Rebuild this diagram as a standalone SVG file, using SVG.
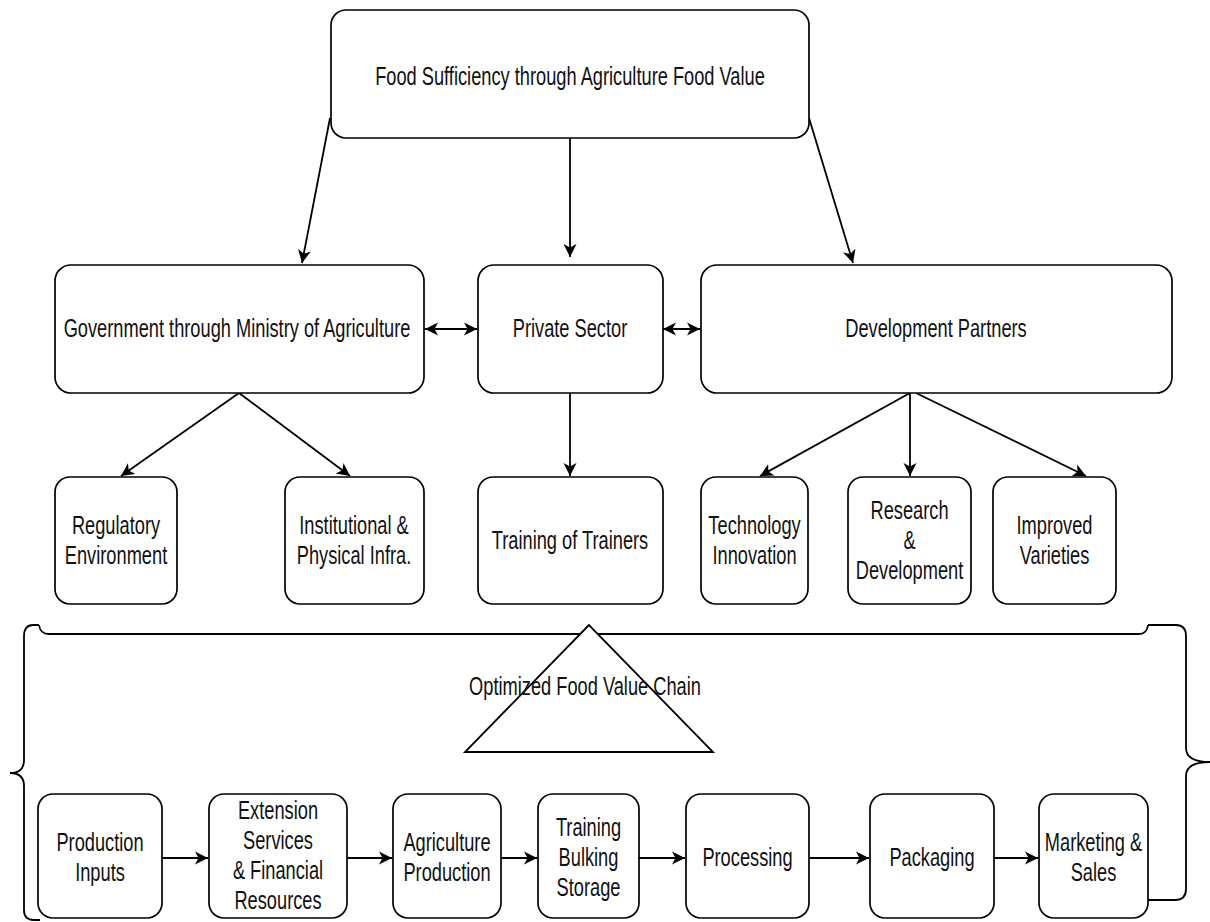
<svg xmlns="http://www.w3.org/2000/svg" width="1210" height="922" viewBox="0 0 1210 922">
<style>
.box{fill:#fff;stroke:#000;stroke-width:1.7}
.t{font-family:"Liberation Sans",Arial,sans-serif;font-size:25px;fill:#111;text-anchor:middle}
.c{fill:none;stroke:#000;stroke-width:1.8}
.br{fill:none;stroke:#000;stroke-width:1.8}
</style>
<defs>
<marker id="ah" markerUnits="userSpaceOnUse" markerWidth="14" markerHeight="14" viewBox="0 0 14 14" refX="13" refY="7" orient="auto-start-reverse">
<path d="M0,0.5 L13,7 L0,13.5 L3.5,7 Z" fill="#000"/>
</marker>
</defs>
<rect width="1210" height="922" fill="#fff"/>

<g id="connectors">
<path class="c" d="M330,118 L302,263" marker-end="url(#ah)"/>
<path class="c" d="M570,138 L570,257" marker-end="url(#ah)"/>
<path class="c" d="M809,118 L853,263" marker-end="url(#ah)"/>
<path class="c" d="M425,329 L477,329" marker-start="url(#ah)" marker-end="url(#ah)"/>
<path class="c" d="M663,329 L700,329" marker-start="url(#ah)" marker-end="url(#ah)"/>
<path class="c" d="M239,393 L121,476" marker-end="url(#ah)"/>
<path class="c" d="M239,393 L350,476" marker-end="url(#ah)"/>
<path class="c" d="M570,393 L570,476" marker-end="url(#ah)"/>
<path class="c" d="M910,393 L760,476" marker-end="url(#ah)"/>
<path class="c" d="M910,393 L910,476" marker-end="url(#ah)"/>
<path class="c" d="M916,393 L1086,476" marker-end="url(#ah)"/>
<path class="c" d="M162,858 L208,858" marker-end="url(#ah)"/>
<path class="c" d="M347,858 L392,858" marker-end="url(#ah)"/>
<path class="c" d="M501,858 L537,858" marker-end="url(#ah)"/>
<path class="c" d="M639,858 L685,858" marker-end="url(#ah)"/>
<path class="c" d="M809,858 L869,858" marker-end="url(#ah)"/>
<path class="c" d="M994,858 L1038,858" marker-end="url(#ah)"/>
</g>

<g id="top">
<rect class="box" x="331" y="10" width="478" height="128" rx="15"/>
<text class="t" transform="matrix(0.73 0 0 1 570 0)" x="0" y="85">Food Sufficiency through Agriculture Food Value</text>
</g>
<g id="gov">
<rect class="box" x="55" y="265" width="369" height="128" rx="16"/>
<text class="t" transform="matrix(0.73 0 0 1 237 0)" x="0" y="337">Government through Ministry of Agriculture</text>
</g>
<g id="private">
<rect class="box" x="478" y="265" width="185" height="128" rx="16"/>
<text class="t" transform="matrix(0.73 0 0 1 570 0)" x="0" y="337">Private Sector</text>
</g>
<g id="dev">
<rect class="box" x="701" y="265" width="471" height="128" rx="16"/>
<text class="t" transform="matrix(0.73 0 0 1 936 0)" x="0" y="337">Development Partners</text>
</g>

<g id="regulatory">
<rect class="box" x="55" y="477" width="122" height="127" rx="15"/>
<text class="t" transform="matrix(0.73 0 0 1 116 0)"><tspan x="0" y="534">Regulatory</tspan><tspan x="0" y="564">Environment</tspan></text>
</g>
<g id="institutional">
<rect class="box" x="285" y="477" width="139" height="127" rx="15"/>
<text class="t" transform="matrix(0.73 0 0 1 354 0)"><tspan x="0" y="534">Institutional &amp;</tspan><tspan x="0" y="564">Physical Infra.</tspan></text>
</g>
<g id="tot">
<rect class="box" x="478" y="477" width="185" height="127" rx="15"/>
<text class="t" transform="matrix(0.73 0 0 1 570 0)" x="0" y="549">Training of Trainers</text>
</g>
<g id="tech">
<rect class="box" x="701" y="477" width="107" height="127" rx="15"/>
<text class="t" transform="matrix(0.73 0 0 1 754.5 0)"><tspan x="0" y="534">Technology</tspan><tspan x="0" y="564">Innovation</tspan></text>
</g>
<g id="rd">
<rect class="box" x="848" y="477" width="123" height="127" rx="15"/>
<text class="t" transform="matrix(0.73 0 0 1 909.5 0)"><tspan x="0" y="519">Research</tspan><tspan x="0" y="549">&amp;</tspan><tspan x="0" y="579">Development</tspan></text>
</g>
<g id="improved">
<rect class="box" x="993" y="477" width="123" height="127" rx="15"/>
<text class="t" transform="matrix(0.73 0 0 1 1054.5 0)"><tspan x="0" y="534">Improved</tspan><tspan x="0" y="564">Varieties</tspan></text>
</g>

<g id="brace">
<path class="br" d="M39,625 Q40,634 49,634 L1139,634 Q1147,634 1148,625"/>
<path class="br" d="M39,625 L33,625 Q24,625 24,636 L24,760 Q24,773 10,773 Q24,773 24,786 L24,910 Q24,920 34,920 L40,920"/>
<path class="br" d="M1148,625 L1176,625 Q1186,625 1186,636 L1186,748 Q1186,762 1210,762 Q1186,762 1186,776 L1186,889 Q1186,900 1175,900 L1148,900"/>
</g>

<g id="optimized">
<polygon points="589,625 465,752 713,752" fill="#fff" stroke="#000" stroke-width="1.8"/>
<text class="t" transform="matrix(0.73 0 0 1 585 0)" x="0" y="695">Optimized Food Value Chain</text>
</g>

<g id="inputs">
<rect class="box" x="38" y="794" width="124" height="124" rx="15"/>
<text class="t" transform="matrix(0.73 0 0 1 100 0)"><tspan x="0" y="851">Production</tspan><tspan x="0" y="881">Inputs</tspan></text>
</g>
<g id="extension">
<rect class="box" x="209" y="794" width="138" height="124" rx="15"/>
<text class="t" transform="matrix(0.73 0 0 1 278 0)"><tspan x="0" y="819">Extension</tspan><tspan x="0" y="849">Services</tspan><tspan x="0" y="879">&amp; Financial</tspan><tspan x="0" y="909">Resources</tspan></text>
</g>
<g id="agprod">
<rect class="box" x="393" y="794" width="108" height="124" rx="15"/>
<text class="t" transform="matrix(0.73 0 0 1 447 0)"><tspan x="0" y="851">Agriculture</tspan><tspan x="0" y="881">Production</tspan></text>
</g>
<g id="tbs">
<rect class="box" x="538" y="794" width="101" height="124" rx="15"/>
<text class="t" transform="matrix(0.73 0 0 1 588.5 0)"><tspan x="0" y="836">Training</tspan><tspan x="0" y="866">Bulking</tspan><tspan x="0" y="896">Storage</tspan></text>
</g>
<g id="processing">
<rect class="box" x="686" y="794" width="123" height="124" rx="15"/>
<text class="t" transform="matrix(0.73 0 0 1 747.5 0)" x="0" y="866">Processing</text>
</g>
<g id="packaging">
<rect class="box" x="870" y="794" width="124" height="124" rx="15"/>
<text class="t" transform="matrix(0.73 0 0 1 932 0)" x="0" y="866">Packaging</text>
</g>
<g id="marketing">
<rect class="box" x="1039" y="794" width="109" height="124" rx="15"/>
<text class="t" transform="matrix(0.73 0 0 1 1093.5 0)"><tspan x="0" y="851">Marketing &amp;</tspan><tspan x="0" y="881">Sales</tspan></text>
</g>
</svg>
